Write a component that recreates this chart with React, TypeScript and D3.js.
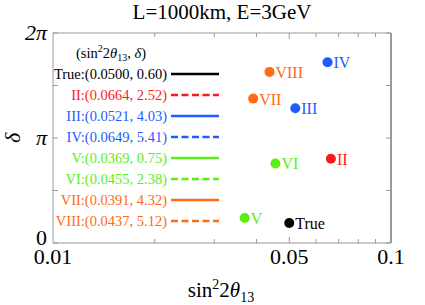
import { useEffect, useRef } from 'react';
import * as d3 from 'd3';

// data
const labels = ['True', 'II', 'III', 'IV', 'V', 'VI', 'VII', 'VIII'];
const sinValues = [0.05, 0.0664, 0.0521, 0.0649, 0.0369, 0.0455, 0.0391, 0.0437];
const deltaValues = [0.6, 2.52, 4.03, 5.41, 0.75, 2.38, 4.32, 5.12];
const colors = ['#000000', '#ff1a1a', '#1f5cff', '#1f5cff', '#5cee14', '#5cee14', '#ff6a14', '#ff6a14'];
const dashed = [false, true, false, true, false, true, false, true];
const xTickLabels = [0.01, 0.05, 0.1];
const xMinorTicks = [0.02, 0.03, 0.04, 0.05, 0.06, 0.07, 0.08, 0.09];
const yTicks = [0, Math.PI / 2, Math.PI, (3 * Math.PI) / 2, 2 * Math.PI];
const yTickLabels = [
  { v: 0, t: '0' },
  { v: Math.PI, t: 'π' },
  { v: 2 * Math.PI, t: '2π' },
];

const App: React.FC = () => {
  const svgRef = useRef<SVGSVGElement | null>(null);

  useEffect(() => {
    if (svgRef.current === null) return;
    const width = 425;
    const height = 305;
    const margin = { top: 33, right: 34, bottom: 62, left: 53 };
    const w = width - margin.left - margin.right;
    const h = height - margin.top - margin.bottom;
    const font = "'Liberation Serif', 'Times New Roman', serif";

    const svg = d3.select(svgRef.current);
    svg.selectAll('*').remove();
    svg.attr('width', width).attr('height', height).style('font-family', font);

    const x = d3.scaleLog().domain([0.01, 0.1]).range([0, w]);
    const y = d3.scaleLinear().domain([0, 2 * Math.PI]).range([h, 0]);

    // title
    svg
      .append('text')
      .attr('x', 222)
      .attr('y', 19)
      .attr('text-anchor', 'middle')
      .style('font-size', '21px')
      .text('L=1000km, E=3GeV');

    const g = svg.append('g').attr('transform', `translate(${margin.left},${margin.top})`);

    // frame
    const frame = '#9a9a9a';
    g.append('line').attr('x1', 0).attr('x2', w).attr('y1', 0).attr('y2', 0).attr('stroke', frame).attr('stroke-width', 1);
    g.append('line').attr('x1', 0).attr('x2', w).attr('y1', h).attr('y2', h).attr('stroke', frame).attr('stroke-width', 1);
    g.append('line').attr('x1', 0).attr('x2', 0).attr('y1', 0).attr('y2', h).attr('stroke', frame).attr('stroke-width', 1);
    g.append('line').attr('x1', w).attr('x2', w).attr('y1', 0).attr('y2', h).attr('stroke', frame).attr('stroke-width', 2);

    // x ticks (bottom and top, inside)
    g.selectAll('.xtick-b')
      .data(xMinorTicks)
      .enter()
      .append('line')
      .attr('x1', (d) => x(d))
      .attr('x2', (d) => x(d))
      .attr('y1', h)
      .attr('y2', (d) => (d === 0.05 ? h - 6 : h - 4))
      .attr('stroke', frame);
    g.selectAll('.xtick-t')
      .data(xMinorTicks)
      .enter()
      .append('line')
      .attr('x1', (d) => x(d))
      .attr('x2', (d) => x(d))
      .attr('y1', 0)
      .attr('y2', (d) => (d === 0.05 ? 6 : 4))
      .attr('stroke', frame);

    // y ticks (left and right, inside)
    g.selectAll('.ytick-l')
      .data(yTicks)
      .enter()
      .append('line')
      .attr('x1', 0)
      .attr('x2', 5)
      .attr('y1', (d) => y(d))
      .attr('y2', (d) => y(d))
      .attr('stroke', frame);
    g.selectAll('.ytick-r')
      .data(yTicks)
      .enter()
      .append('line')
      .attr('x1', w)
      .attr('x2', w - 5)
      .attr('y1', (d) => y(d))
      .attr('y2', (d) => y(d))
      .attr('stroke', frame);

    // tick labels
    g.selectAll('.xlab')
      .data(xTickLabels)
      .enter()
      .append('text')
      .attr('x', (d) => x(d))
      .attr('y', h + 21)
      .attr('text-anchor', 'middle')
      .style('font-size', '22px')
      .text((d) => String(d));
    g.selectAll('.ylab')
      .data(yTickLabels)
      .enter()
      .append('text')
      .attr('x', -6)
      .attr('y', (d) => y(d.v) + (d.v === 0 ? 2 : 7))
      .attr('text-anchor', 'end')
      .style('font-size', '22px')
      .style('font-style', (d) => (d.t === '0' ? 'normal' : 'italic'))
      .text((d) => d.t);

    // axis titles
    const xt = svg
      .append('text')
      .attr('x', 221)
      .attr('y', 297)
      .attr('text-anchor', 'middle')
      .style('font-size', '21px');
    xt.append('tspan').text('sin');
    xt.append('tspan').attr('dy', -8).style('font-size', '14px').text('2');
    xt.append('tspan').attr('dy', 8).text('2');
    xt.append('tspan').style('font-style', 'italic').text('θ');
    xt.append('tspan').attr('dy', 5).style('font-size', '14px').text('13');

    svg
      .append('text')
      .attr('transform', `translate(20,${margin.top + y(Math.PI)}) rotate(-90)`)
      .attr('text-anchor', 'middle')
      .style('font-size', '22px')
      .style('font-style', 'italic')
      .text('δ');

    // legend header
    const lh = g
      .append('text')
      .attr('x', 58)
      .attr('y', 25)
      .attr('text-anchor', 'middle')
      .style('font-size', '14.5px');
    lh.append('tspan').text('(sin');
    lh.append('tspan').attr('dy', -6).style('font-size', '10px').text('2');
    lh.append('tspan').attr('dy', 6).text('2');
    lh.append('tspan').style('font-style', 'italic').text('θ');
    lh.append('tspan').attr('dy', 3).style('font-size', '10px').text('13');
    lh.append('tspan').attr('dy', -3).text(', ');
    lh.append('tspan').style('font-style', 'italic').text('δ');
    lh.append('tspan').text(')');

    // legend entries
    const idx = d3.range(labels.length);
    const ly = (i: number) => 41 + i * 21;
    g.selectAll('.leg-text')
      .data(idx)
      .enter()
      .append('text')
      .attr('x', 114)
      .attr('y', (i) => ly(i) + 5)
      .attr('text-anchor', 'end')
      .attr('fill', (i) => colors[i])
      .style('font-size', '14.5px')
      .text((i) => `${labels[i]}:(${sinValues[i].toFixed(4)}, ${deltaValues[i].toFixed(2)})`);
    g.selectAll('.leg-line')
      .data(idx)
      .enter()
      .append('line')
      .attr('x1', 118)
      .attr('x2', 166)
      .attr('y1', (i) => ly(i))
      .attr('y2', (i) => ly(i))
      .attr('stroke', (i) => colors[i])
      .attr('stroke-width', 2.5)
      .attr('stroke-dasharray', (i) => (dashed[i] ? '7,3.5' : null));

    // points
    g.selectAll('.pt')
      .data(idx)
      .enter()
      .append('circle')
      .attr('cx', (i) => x(sinValues[i]))
      .attr('cy', (i) => y(deltaValues[i]))
      .attr('r', 5)
      .attr('fill', (i) => colors[i]);
    g.selectAll('.pt-label')
      .data(idx)
      .enter()
      .append('text')
      .attr('x', (i) => x(sinValues[i]) + 6)
      .attr('y', (i) => y(deltaValues[i]) + 6)
      .attr('fill', (i) => colors[i])
      .style('font-size', '16px')
      .text((i) => labels[i]);
  }, []);

  return <svg ref={svgRef} style={{ position: 'absolute', left: 0, top: 0 }}></svg>;
};

export default App;
